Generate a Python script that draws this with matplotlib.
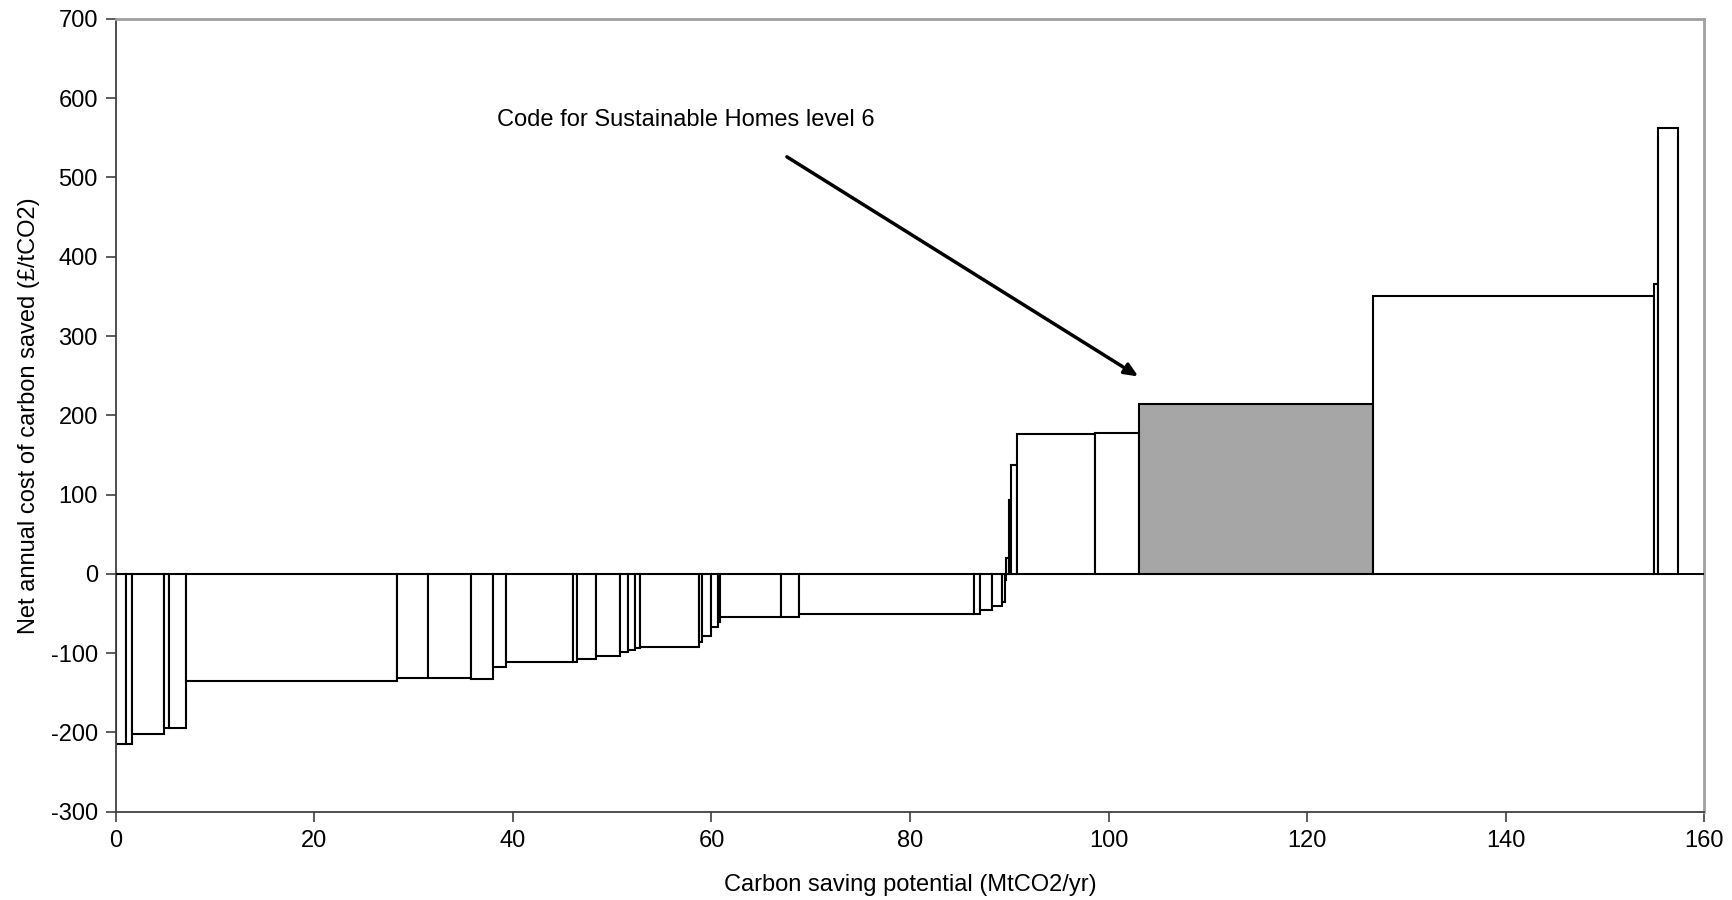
import matplotlib
matplotlib.use("Agg")
import matplotlib.pyplot as plt
import numpy as np

plt.rcParams['font.family'] = ['Liberation Sans', 'DejaVu Sans']
plt.rcParams['axes.unicode_minus'] = False

# ---------- data: right-hand edge of each measure (MtCO2/yr) and its cost (£/tCO2) ----------
x_edges = [0, 1.0, 1.64, 4.83, 5.37, 7.05, 28.33, 31.39, 35.82, 38.0, 39.27,
           46.05, 46.46, 48.34, 50.76, 51.6, 52.27, 52.77, 58.74, 59.08, 59.99,
           60.65, 60.9, 67.04, 68.81, 86.43, 87.07, 88.28, 89.3, 89.53, 89.7,
           89.93, 90.2, 90.8, 98.6, 103.07, 126.6, 155.0, 155.4, 157.4]
costs = [-215, -215, -202, -195, -195, -135, -131, -131, -132, -118,
         -111, -111, -108, -103, -99, -96, -94, -92, -86, -78,
         -67, -61, -55, -55, -50, -50, -46, -40, -35, -8,
         20, 93, 137, 176, 178, 214, 350, 365, 563]
highlight = "Code for Sustainable Homes level 6"
highlight_index = 35

lefts = np.array(x_edges[:-1])
widths = np.diff(x_edges)
colors = ['white'] * len(costs)
colors[highlight_index] = '#a6a6a6'

# ---------- plot ----------
fig = plt.figure(figsize=(17.33, 9), dpi=100)
ax = fig.add_axes([0.0669, 0.0981, 0.9164, 0.8809])

ax.bar(lefts, costs, width=widths, align='edge', color=colors,
       edgecolor='black', linewidth=1.5, zorder=2)
ax.axhline(0, color='black', linewidth=1.4, zorder=3)

ax.annotate("", xy=(103.0, 249), xytext=(67.6, 526),
            arrowprops=dict(arrowstyle='-|>,head_length=0.8,head_width=0.35',
                            color='black', lw=2.5, shrinkA=0, shrinkB=0))
ax.text(38.4, 573, highlight, fontsize=17, va='center', ha='left')

ax.set_xlim(0, 160)
ax.set_ylim(-300, 700)
ax.set_xticks(np.arange(0, 161, 20))
ax.set_yticks(np.arange(-300, 701, 100))
ax.tick_params(direction='out', length=7, width=1.2, color='#404040',
               labelsize=17, pad=6)

for s in ['left', 'bottom']:
    ax.spines[s].set_color('#404040')
    ax.spines[s].set_linewidth(1.3)
for s in ['top', 'right']:
    ax.spines[s].set_color('#a0a0a0')
    ax.spines[s].set_linewidth(2)

ax.set_xlabel("Carbon saving potential (MtCO2/yr)", fontsize=17, labelpad=16)
ax.set_ylabel("Net annual cost of carbon saved (£/tCO2)", fontsize=17, labelpad=8)

fig.savefig("out.png", dpi=100)
